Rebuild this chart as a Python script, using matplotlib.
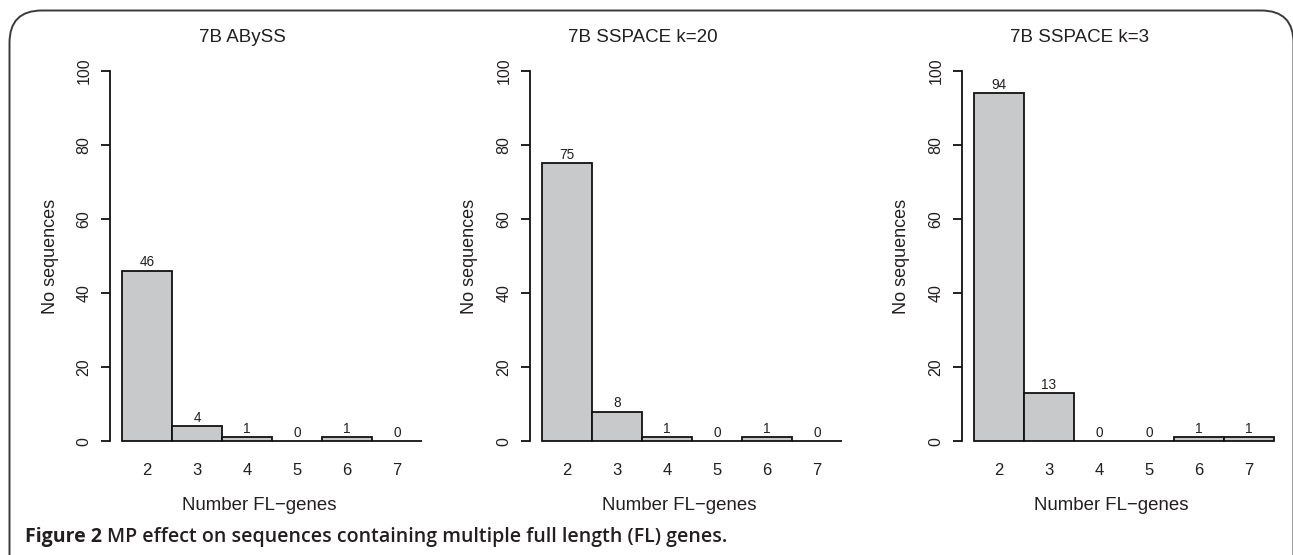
#!/usr/bin/env python
# three barplots (R style) of sequences with multiple FL genes
import numpy as np
import matplotlib.pyplot as plt
from matplotlib.patches import FancyBboxPatch

output_file = 'out.png'

genes = ['2', '3', '4', '5', '6', '7']
titles = ['7B ABySS', '7B SSPACE k=20', '7B SSPACE k=3']
abyss = [46, 4, 1, 0, 1, 0]
sspace_k20 = [75, 8, 1, 0, 1, 0]
sspace_k3 = [94, 13, 0, 0, 1, 1]
yticks = [0, 20, 40, 60, 80, 100]

W, H = 1293, 555
txt = '#231f20'
plt.rcParams['font.family'] = ['Liberation Sans', 'DejaVu Sans']

fig = plt.figure(figsize=(W / 100, H / 100), dpi=100)

# left edge of each plot region, pixels, and title centres
lefts = [110, 530, 962]
title_x = [242, 643, 1079]
ax_w, top, bottom = 324, 56, 456

for left, tx, title, vals in zip(lefts, title_x, titles, [abyss, sspace_k20, sspace_k3]):
  ax = fig.add_axes([left / W, (H - bottom) / H, ax_w / W, (bottom - top) / H])
  ind = np.arange(len(vals))
  ax.bar(ind + 0.5, vals, 1.0, color='#c8c9cb', edgecolor='#111111', linewidth=1.3)
  for x, v in zip(ind + 0.5, vals):
    ax.annotate(str(v), (x, v), xytext=(0, 1), textcoords='offset points',
                ha='center', va='bottom', fontsize=9.8, color=txt)
  ax.set_xlim(-0.24, 6.24)
  ax.set_ylim(-4, 104)
  ax.set_xticks(ind + 0.5)
  ax.set_xticklabels(genes)
  ax.set_yticks(yticks)
  ax.set_yticklabels([str(t) for t in yticks], rotation=90, va='center')
  for s in ['top', 'right', 'bottom']:
    ax.spines[s].set_visible(False)
  ax.spines['left'].set_bounds(0, 100)
  ax.spines['left'].set_linewidth(1.3)
  ax.spines['left'].set_color('#111111')
  ax.tick_params(axis='x', length=0, pad=5, labelsize=12, colors=txt)
  ax.tick_params(axis='y', length=6.5, width=1.3, pad=7, labelsize=11.5,
                 colors=txt, color='#111111')
  fig.text(tx / W, 1 - 38.0 / H, title, ha='center', va='center',
           fontsize=13.5, color=txt)
  fig.text((left + 149) / W, 1 - 505.0 / H, 'Number FL\u2212genes',
           ha='center', va='center', fontsize=13.4, color=txt)
  ax.text(-60.0 / ax_w, 0.5, 'No sequences', transform=ax.transAxes, rotation=90,
          ha='center', va='center', fontsize=13, color=txt)

# rounded frame, open at the bottom, right side just off the picture
frame = FancyBboxPatch((9.5 / W, -0.1), 1284.0 / W, 1.1 - 10.5 / H,
                       boxstyle='round,pad=0,rounding_size=0.025',
                       transform=fig.transFigure, fill=False,
                       edgecolor='#3a3a3a', linewidth=1.4, mutation_aspect=W / H)
fig.patches.append(frame)

cap_font = ['Open Sans', 'DejaVu Sans']
t1 = fig.text(25 / W, 1 - 537.0 / H, 'Figure 2', fontsize=14, fontweight='bold',
              family=cap_font, color=txt, ha='left', va='center')
fig.canvas.draw()
bb = t1.get_window_extent()
fig.text((bb.x1 + 5) / W, 1 - 537.0 / H,
         'MP effect on sequences containing multiple full length (FL) genes.',
         fontsize=14, fontweight='semibold', family=cap_font,
         color=txt, ha='left', va='center')

plt.savefig(output_file, dpi=100)
print('Saved to', output_file)
